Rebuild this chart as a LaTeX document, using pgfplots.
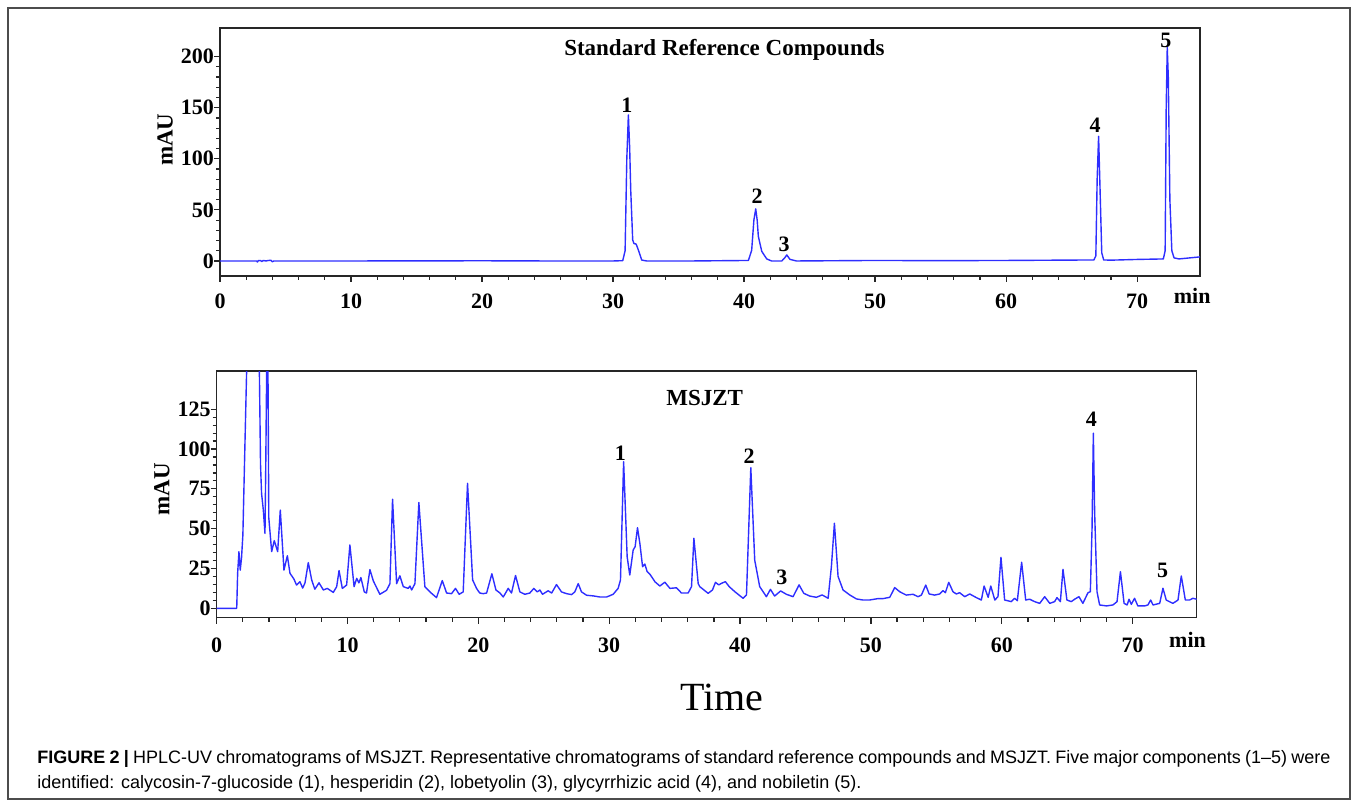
\documentclass[border=0pt]{standalone}
\usepackage{fontspec}
\setmainfont{Liberation Serif}
\newfontfamily\capfont{Liberation Sans}
\usepackage{pgfplots}
\pgfplotsset{compat=1.18}

\definecolor{trace}{rgb}{0.18,0.18,1}
\tikzset{peak/.style={font=\bfseries\fontsize{11}{12}\selectfont}}

\pgfplotsset{
  chrom/.style={
    scale only axis, width=490pt,
    xmin=0,
    axis line style={line width=0.7pt, black!85},
    tick style={line width=0.6pt, black!85},
    tick align=outside, xtick pos=bottom, ytick pos=left,
    major tick length=3pt, minor tick length=2pt,
    xtick={0,10,...,70}, minor x tick num=4, minor y tick num=4,
    ticklabel style={font=\bfseries\fontsize{11}{12}\selectfont},
    yticklabel style={xshift=3.5pt},
    /pgf/number format/assume math mode=true,
    extra x ticks={74.2}, extra x tick labels={min},
    extra x tick style={major tick length=0pt},
    ylabel={mAU},
    ylabel style={font=\bfseries\fontsize{11.5}{12}\selectfont, anchor=center},
    clip mode=individual,
  },
}

\begin{document}
\begin{tikzpicture}
\path[use as bounding box] (0,0) rectangle (679pt,-403pt);
\draw[black!70, line width=0.6pt] (4pt,-4pt) rectangle (675pt,-399.5pt);

% standard reference compounds
\begin{axis}[chrom,
  at={(110pt,-138pt)}, anchor=south west, height=124pt,
  xmax=74.8, ymin=-14.7, ymax=228,
  ytick={0,50,...,200},
  xticklabel style={yshift=-2.5pt},
  ylabel style={at={(axis description cs:-0.056,0.55)}},
]
\addplot[trace, line width=0.7pt, line join=round] coordinates {
(0,0)(2.8,0)(2.85,-1)(2.95,0.5)(3.1,0.3)(3.2,-0.5)(3.3,0.5)(3.5,0)(3.7,0.5)(3.9,0.6)(4.0,-0.8)(4.1,0)
(10,0)(20,0.2)(25,0)(30,0)(30.74,0.3)(30.92,10)(31.05,100)(31.17,143)(31.27,110)(31.35,69)(31.5,20.5)
(31.6,17)(31.76,16.6)(31.94,10.4)(32.19,0.9)(32.57,0)(36,0)(40.33,0.5)(40.58,10.4)(40.75,40)(40.89,51)
(41.0,40)(41.09,24)(41.35,9.4)(41.73,2)(42.1,0)(42.88,0)(43.1,3)(43.26,5.9)(43.5,1.6)(44,0)(50,0.5)
(55,0.3)(60,0.5)(66.7,1)(66.85,5)(66.95,80)(67.06,122)(67.15,80)(67.3,8)(67.45,1)(68,0.8)(70,1.5)
(72.0,2)(72.14,10)(72.22,150)(72.3,209)(72.38,180)(72.5,60)(72.65,10)(72.82,3)(73.2,2)(74,3)(74.8,4)
};
\node[font=\bfseries\fontsize{11.5}{12}\selectfont] at (axis cs:38.5,206.6) {Standard Reference Compounds};
\node[peak] at (axis cs:31.05,152.7) {1};
\node[peak] at (axis cs:41,63.6) {2};
\node[peak] at (axis cs:43.05,16.6) {3};
\node[peak] at (axis cs:66.8,133) {4};
\node[peak] at (axis cs:72.2,216) {5};
\end{axis}

% MSJZT sample
\begin{axis}[chrom,
  at={(108.35pt,-308.85pt)}, anchor=south west, height=123.35pt,
  xmax=74.9, ymin=-5.9, ymax=149,
  ytick={0,25,...,125},
  xticklabel style={yshift=-3.5pt},
  ylabel style={at={(axis description cs:-0.056,0.52)}},
]
\addplot[trace, line width=0.7pt, line join=round] coordinates {
(0,0)(1.53,0)(1.6,22)(1.7,35.5)(1.8,24)(1.9,32)(2.0,46)(2.15,100)(2.29,150)(2.5,400)(3.1,400)(3.26,150)
(3.35,90)(3.43,72)(3.56,62)(3.69,47)(3.75,90)(3.82,150)(3.88,200)(3.94,120)(3.98,57)(4.2,35.6)(4.4,42.5)
(4.66,35.6)(4.86,61.7)(5.14,24)(5.4,33)(5.6,22)(5.9,18.4)(6.1,14.6)(6.36,16.7)(6.57,12.7)(6.75,16)
(7.0,28.7)(7.26,17.8)(7.5,12)(7.82,16)(8.15,11.5)(8.45,12.5)(8.91,10)(9.17,13.6)(9.35,23.7)(9.6,12.5)
(9.93,14.6)(10.18,39.8)(10.5,13.6)(10.7,18.8)(10.87,16)(11.02,19.3)(11.28,10.3)(11.45,9.6)(11.71,24.3)
(11.97,17.2)(12.47,8.8)(12.98,11.3)(13.24,15.5)(13.44,68.5)(13.75,15.5)(14.0,20.4)(14.26,13.6)(14.64,12.5)
(14.77,14)(14.9,11.5)(15.15,15.5)(15.45,66.4)(15.91,13.6)(16.42,9.4)(16.8,6.7)(17.24,17.4)(17.57,9.6)
(17.95,9.2)(18.25,12.5)(18.53,8.8)(18.84,10.3)(19.17,78.5)(19.56,17.8)(19.86,12.5)(20.1,9.6)(20.37,9.2)
(20.63,9.6)(21.03,21.7)(21.34,11.5)(21.65,9.6)(21.9,7.1)(22.28,12.5)(22.53,9.6)(22.84,20.6)(23.17,10.3)
(23.55,8.8)(23.93,9.6)(24.24,12.5)(24.5,10.3)(24.7,11.5)(24.9,8.8)(25.33,11)(25.6,9.6)(25.97,14.9)
(26.35,10.3)(26.74,9.2)(27.12,8.6)(27.37,10.3)(27.63,15.5)(27.88,10.3)(28.27,8.2)(28.77,7.8)(29.28,7.1)
(29.8,7.1)(30.3,8.8)(30.68,12.5)(30.86,17.8)(31.1,92.1)(31.37,32.4)(31.57,20.9)(31.83,36.6)(31.98,38.7)
(32.16,50.6)(32.34,40.8)(32.55,26.1)(32.72,27.8)(32.9,23)(33.1,21.5)(33.5,16.6)(33.87,14)(34.25,16.4)
(34.64,12.5)(35.14,12.9)(35.52,9.6)(36.03,9.6)(36.29,13.6)(36.47,44)(36.8,15.5)(36.92,13.6)(37.56,9.4)
(37.89,11.5)(38.12,16.3)(38.37,14.7)(38.58,15.7)(38.88,16.7)(39.17,13.6)(39.59,10.5)(40.23,6.3)(40.49,8.4)
(40.82,88.3)(41.12,30.2)(41.5,13.6)(42.01,7.3)(42.32,11.9)(42.64,7.7)(43.1,10.9)(43.54,8.8)(44.05,7.3)
(44.51,14.7)(44.87,9.4)(45.32,7.7)(45.83,6.9)(46.27,8.4)(46.73,6.3)(46.98,26.2)(47.21,53.4)(47.49,20)
(47.87,11.5)(48.38,8.4)(48.89,5.9)(49.4,5.2)(49.9,5.2)(50.54,6.1)(50.93,6.1)(51.44,6.9)(51.82,13)
(52.2,10.4)(52.7,8.3)(53.22,8.8)(53.6,7.3)(53.86,8.3)(54.19,14.6)(54.45,9)(54.87,8.3)(55.26,9)(55.51,11.1)
(55.69,9.8)(55.95,16.3)(56.27,10.4)(56.53,9)(56.78,9.8)(57.17,7.3)(57.55,9)(58.06,6.7)(58.44,5.2)(58.65,14)
(58.96,6.9)(59.16,14)(59.47,5.2)(59.71,7.3)(59.94,32)(60.22,5.2)(60.73,4.2)(60.98,6.3)(61.19,4.8)
(61.52,28.9)(61.83,5.2)(62.13,5.7)(62.51,4.2)(62.9,3.1)(63.28,7.3)(63.67,3.1)(64.04,4.2)(64.22,6.7)
(64.48,4.2)(64.68,24.5)(64.98,5.2)(65.31,4.2)(65.57,5.7)(65.9,7.3)(66.2,3.1)(66.59,9.8)(66.77,10.4)
(66.9,50)(67.0,110)(67.1,60)(67.28,10.4)(67.48,2.1)(68.0,1.5)(68.5,2.1)(68.81,4.2)(69.07,23)(69.35,3.1)
(69.58,2.1)(69.73,5.7)(69.9,2.5)(70.15,6.3)(70.4,1.5)(70.92,1.5)(71.17,2.1)(71.38,5.2)(71.56,2.1)
(72.07,3.1)(72.32,12.6)(72.57,5.2)(73.08,3.1)(73.47,5.2)(73.72,20.3)(74.03,5.2)(74.36,5.2)(74.61,6.3)(74.9,5.7)
};
\node[font=\bfseries\fontsize{11.5}{12}\selectfont] at (axis cs:37.3,132) {MSJZT};
\node[peak] at (axis cs:30.86,97.4) {1};
\node[peak] at (axis cs:40.7,95.7) {2};
\node[peak] at (axis cs:43.2,19.5) {3};
\node[peak] at (axis cs:66.85,118.7) {4};
\node[peak] at (axis cs:72.3,23.6) {5};
\end{axis}

\node[font=\fontsize{20}{24}\selectfont] at (361pt,-348.5pt) {Time};

\node[anchor=north west, inner sep=0pt, text width=646.5pt, align=justify,
  font=\capfont\fontsize{9}{12.5}\selectfont] at (18.5pt,-375pt)
  {\textbf{FIGURE 2 |} HPLC-UV chromatograms of MSJZT. Representative chromatograms of standard reference compounds and MSJZT. Five major components (1–5) were\linebreak identified: calycosin-7-glucoside (1), hesperidin (2), lobetyolin (3), glycyrrhizic acid (4), and nobiletin (5).};
\end{tikzpicture}
\end{document}
